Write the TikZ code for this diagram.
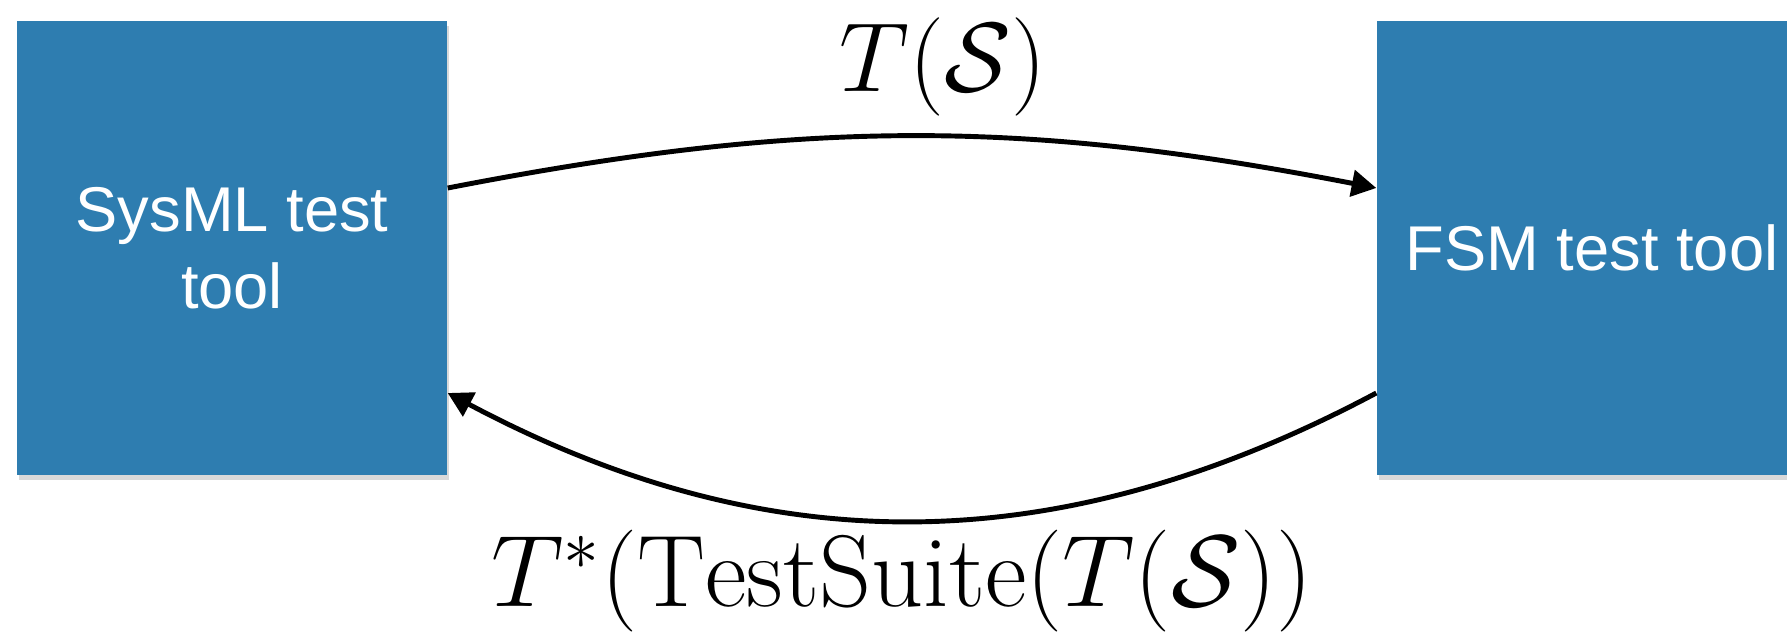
\RequirePackage{fix-cm}
\documentclass[tikz,border=0pt]{standalone}
\usepackage{fontspec}
\newfontfamily\toolfont{Liberation Sans}
\usetikzlibrary{arrows.meta,shadows}
\definecolor{toolblue}{RGB}{46,125,176}
\begin{document}
\begin{tikzpicture}[
  tool/.style={fill=toolblue,draw=none,minimum width=4.3cm,minimum height=4.54cm,text=white,align=center,font=\toolfont\fontsize{18}{22}\selectfont,drop shadow={shadow xshift=0.02cm,shadow yshift=-0.05cm,opacity=0.3}},
  lbl/.style={inner sep=0pt,font=\fontsize{28}{34}\selectfont},
  flow/.style={line width=1.4pt,-{Triangle[length=7pt,width=7.5pt]}}]
  \clip (0,0) rectangle (17.87,6.31);
  \node[tool] (sysml) at (2.32,3.83){SysML test\\tool};
  \node[tool] (fsm) at (15.92,3.83){FSM test tool};
  \node[lbl] (fwd) at (9.43,5.64){$T(\mathcal{S})$};
  \node[lbl,font=\fontsize{29}{34}\selectfont] (back) at (9.02,0.5){$T^{*}(\mathrm{TestSuite}(T(\mathcal{S}))$};
  \draw[flow] ([yshift=6mm]sysml.east) to[bend left=11] ([yshift=6mm]fsm.west);
  \draw[flow] ([yshift=-14.5mm]fsm.west) to[bend left=28] ([yshift=-14.5mm]sysml.east);
\end{tikzpicture}
\end{document}
